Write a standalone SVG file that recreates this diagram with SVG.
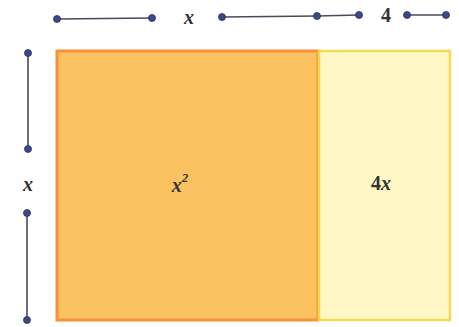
<svg xmlns="http://www.w3.org/2000/svg" width="459" height="327" viewBox="0 0 459 327">
<style>
.seg{stroke:#4a4a5a;stroke-width:1.6;fill:none}
.dot{fill:#3d4888;stroke:#2a3060;stroke-width:0.8}
.lbl{font-family:'Liberation Serif','DejaVu Serif','Noto Serif','Times New Roman',serif;font-weight:bold;fill:#333;text-anchor:middle;dominant-baseline:central}
.it{font-style:italic}
</style>
<rect width="459" height="327" fill="#ffffff"/>
<g id="node-x2">
<rect x="57" y="51" width="261" height="269" fill="#fbc360" stroke="#f7923a" stroke-width="3"/>
<text class="lbl it" x="180" y="185" font-size="20">x<tspan font-size="13" dy="-8">2</tspan></text>
</g>
<g id="node-4x">
<rect x="319" y="51" width="131" height="269" fill="#fff8c6" stroke="#f9d84e" stroke-width="2.5"/>
<text class="lbl" x="381" y="183" font-size="20">4<tspan class="it">x</tspan></text>
</g>
<g id="connectors">
<line class="seg" x1="57" y1="19" x2="152" y2="18"/>
<line class="seg" x1="222" y1="17" x2="317" y2="16"/>
<line class="seg" x1="317" y1="16" x2="359" y2="15"/>
<line class="seg" x1="407" y1="15" x2="446" y2="15"/>
<line class="seg" x1="28" y1="53" x2="28" y2="149"/>
<line class="seg" x1="27" y1="213" x2="27" y2="320"/>
<circle class="dot" cx="57" cy="19" r="3.5"/>
<circle class="dot" cx="152" cy="18" r="3.5"/>
<circle class="dot" cx="222" cy="17" r="3.5"/>
<circle class="dot" cx="317" cy="16" r="3.5"/>
<circle class="dot" cx="359" cy="15" r="3.5"/>
<circle class="dot" cx="407" cy="15" r="3.5"/>
<circle class="dot" cx="446" cy="15" r="3.5"/>
<circle class="dot" cx="28" cy="53" r="3.5"/>
<circle class="dot" cx="28" cy="149" r="3.5"/>
<circle class="dot" cx="27" cy="213" r="3.5"/>
<circle class="dot" cx="27" cy="320" r="3.5"/>
</g>
<g id="labels">
<text class="lbl it" x="189" y="17" font-size="20">x</text>
<text class="lbl" x="386" y="15" font-size="20">4</text>
<text class="lbl it" x="28" y="184" font-size="20">x</text>
</g>
</svg>
